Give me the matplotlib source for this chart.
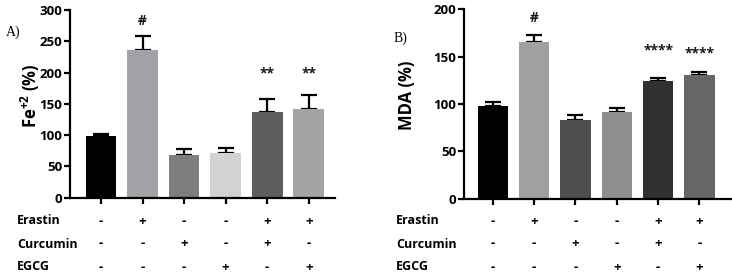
import matplotlib
matplotlib.use("Agg")
import matplotlib.pyplot as plt
import matplotlib.transforms as mtransforms
import numpy as np

plt.rcParams['font.family'] = ['Open Sans', 'DejaVu Sans']
plt.rcParams['mathtext.fontset'] = 'custom'
plt.rcParams['mathtext.bf'] = 'Open Sans:bold'
plt.rcParams['mathtext.rm'] = 'Open Sans:bold'

# treatment table
row_names = ["Erastin", "Curcumin", "EGCG"]
erastin = ["-", "+", "-", "-", "+", "+"]
curcumin = ["-", "-", "+", "-", "+", "-"]
egcg = ["-", "-", "-", "+", "-", "+"]

# panel A: Fe+2
fe_mean = [99, 236, 69, 72, 137, 142]
fe_err = [3, 22, 9, 8, 21, 22]
fe_colors = ["#000000", "#a2a2a6", "#7e7e80", "#d2d2d4", "#5e5e60", "#a4a4a6"]
fe_marks = ["", "#", "", "", "**", "**"]
fe_mark_y = [0, 283, 0, 0, 199, 199]

# panel B: MDA
mda_mean = [98, 165, 83, 92, 124, 131]
mda_err = [4, 8, 5, 4, 3, 3]
mda_colors = ["#000000", "#a0a0a0", "#4e4e4e", "#8e8e8e", "#303030", "#666666"]
mda_marks = ["", "#", "", "", "****", "****"]
mda_mark_y = [0, 191, 0, 0, 156, 153]


def draw_panel(fig, rect, means, errs, colors, marks, mark_y, ylim, ystep,
               ylabel, xlim, tag, tag_xy, label_x, row_x):
    ax = fig.add_axes(rect)
    x = np.arange(len(means))
    ax.bar(x, means, width=0.74, color=colors, zorder=2)
    ax.errorbar(x, means, yerr=[np.zeros(len(errs)), errs], fmt="none",
                ecolor="black", elinewidth=1.6, capsize=5.5, capthick=1.6,
                zorder=1)
    for xi, my, s in zip(x, mark_y, marks):
        if s:
            ax.text(xi, my, s, ha="center", va="center", fontsize=10,
                    fontweight="bold", color="#1a1a1a")
    ax.set_xlim(*xlim)
    ax.set_ylim(0, ylim)
    ax.set_yticks(np.arange(0, ylim + 1, ystep))
    ax.set_xticks(x)
    ax.set_xticklabels([])
    for side in ("top", "right"):
        ax.spines[side].set_visible(False)
    for side in ("left", "bottom"):
        ax.spines[side].set_linewidth(1.6)
    ax.tick_params(axis="both", width=1.6, length=4.5, direction="out")
    ax.tick_params(axis="y", labelsize=9.5, pad=1)
    for lab in ax.get_yticklabels():
        lab.set_fontweight("bold")
    fig.text(label_x, (rect[1] + rect[1] + rect[3]) / 2 + 0.03, ylabel,
             rotation=90, ha="center", va="center", fontsize=12,
             fontweight="bold")
    fig.text(tag_xy[0], tag_xy[1], tag, fontsize=10,
             family="Liberation Serif", ha="left", va="center")

    trans = mtransforms.blended_transform_factory(ax.transData, fig.transFigure)
    rows = [erastin, curcumin, egcg]
    row_y = [1 - 221 / 277, 1 - 244 / 277, 1 - 267 / 277]
    for name, vals, yy in zip(row_names, rows, row_y):
        fig.text(row_x, yy, name, ha="left", va="center", fontsize=9,
                 fontweight="bold")
        for xi, v in zip(x, vals):
            ax.text(xi, yy, v, transform=trans, ha="center", va="center",
                    fontsize=9.5, fontweight="bold", clip_on=False)
    return ax


fig = plt.figure(figsize=(7.32, 2.77), dpi=100)

draw_panel(fig, [70 / 732, 1 - 197.7 / 277, 265 / 732, 187.7 / 277],
           fe_mean, fe_err, fe_colors, fe_marks, fe_mark_y, 300, 50,
           r"Fe$^{\mathbf{+2}}$ (%)", (-0.745, 5.63), "A)",
           (6 / 732, 1 - 32 / 277), 30 / 732, 17 / 732)

draw_panel(fig, [464 / 732, 1 - 198.7 / 277, 268 / 732, 189.4 / 277],
           mda_mean, mda_err, mda_colors, mda_marks, mda_mark_y, 200, 50,
           "MDA (%)", (-0.70, 5.79), "B)", (394 / 732, 1 - 38 / 277),
           407 / 732, 396 / 732)

fig.savefig("out.png", dpi=100)
